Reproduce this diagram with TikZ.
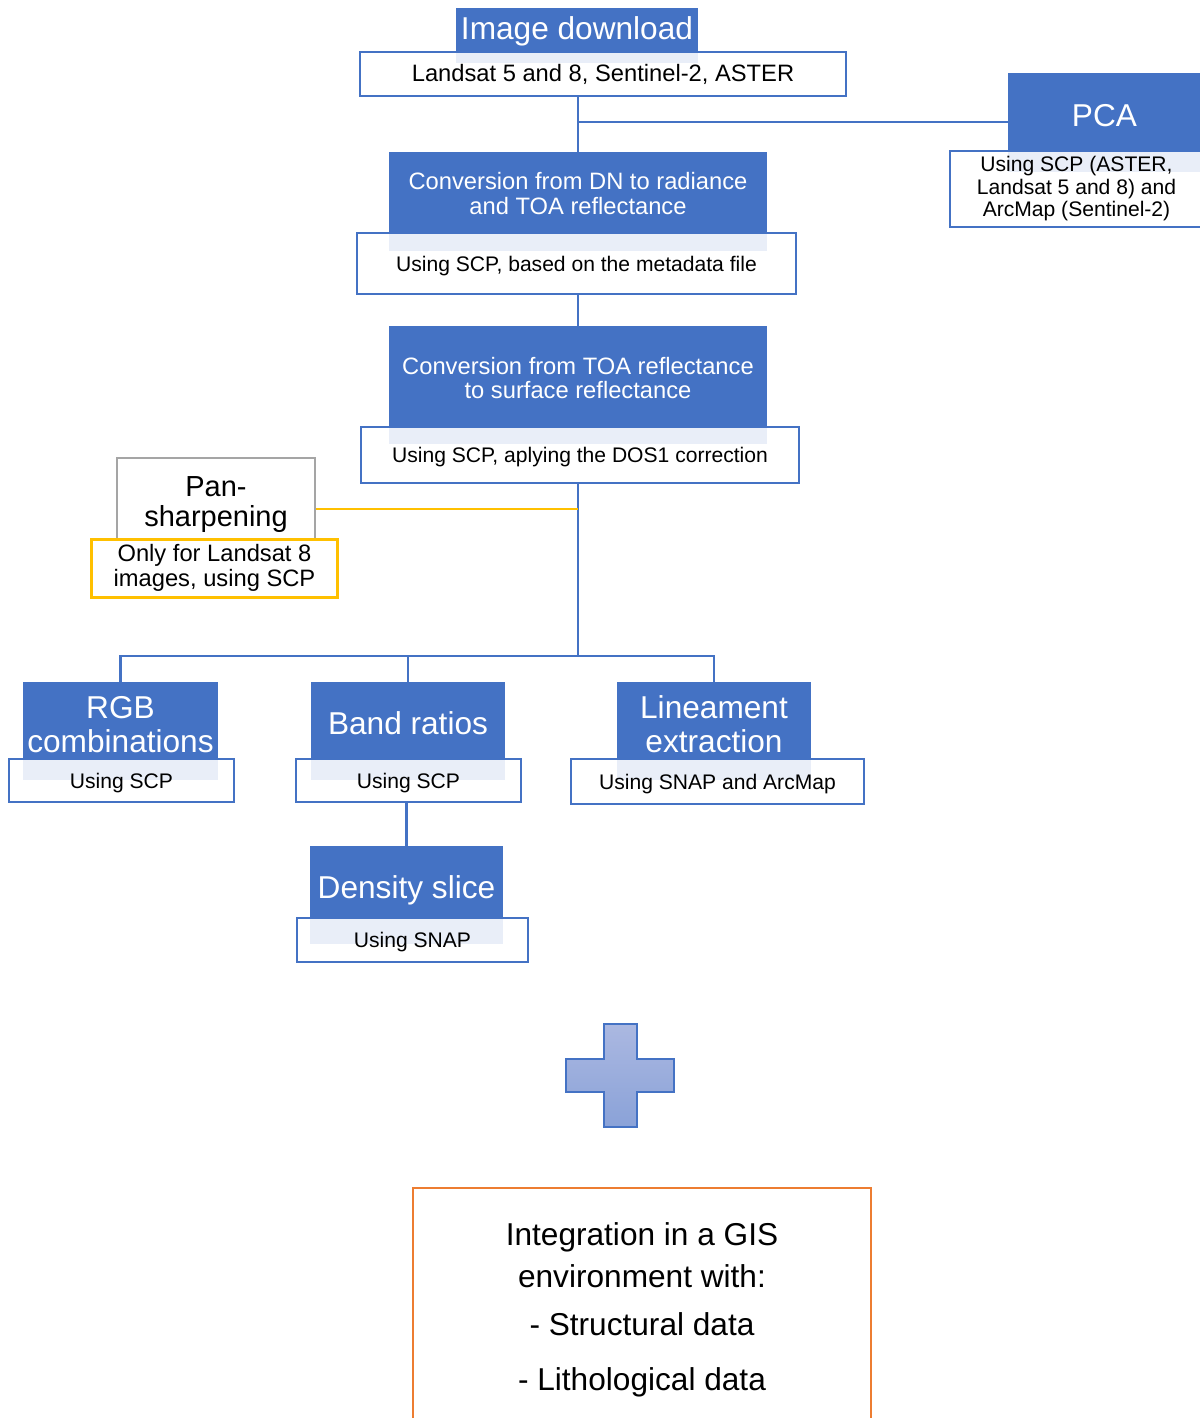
\documentclass[tikz,border=0pt]{standalone}
\usepackage{fontspec}
\setmainfont{Liberation Sans}
\definecolor{saBlue}{HTML}{4472C4}
\definecolor{saLight}{HTML}{E9EEF8}
\definecolor{saYellow}{HTML}{FFC000}
\definecolor{saGray}{HTML}{A5A5A5}
\definecolor{saOrange}{HTML}{ED7D31}
\definecolor{plusTop}{HTML}{ABB8E1}
\definecolor{plusBot}{HTML}{8AA2D8}
\tikzset{
  head/.style={fill=saBlue, text=white, inner sep=0pt, align=center, font=\fontsize{18}{19.5}\selectfont},
  convhead/.style={head, font=\fontsize{13.5}{14.2}\selectfont},
  sub/.style={draw=saBlue, line width=1.3pt, inner sep=0pt, align=center, font=\fontsize{12}{12.8}\selectfont},
  subline/.style={sub, text height=10.8pt, text depth=2.2pt},
  link/.style={draw=saBlue, line width=1.3pt},
}
\begin{document}
\begin{tikzpicture}[x=0.02cm, y=-0.02cm, line join=miter]
	\useasboundingbox (0,0) rectangle (1200,1418);
	\clip (0,0) rectangle (1200,1418);
	% blue heads
	\node (dl) at (577,31) [head, minimum width=4.84cm, minimum height=0.92cm] {Image download};
	\node (pca) at (1104.5,115.5) [head, minimum width=3.86cm, minimum height=1.7cm] {PCA};
	\node (conv1) at (578,193.5) [convhead, minimum width=7.56cm, minimum height=1.66cm] {Conversion from DN to radiance\\and TOA reflectance};
	\node (conv2) at (578,378) [convhead, minimum width=7.56cm, minimum height=2.08cm] {Conversion from TOA reflectance\\to surface reflectance};
	\node (rgb) at (120.5,724.5) [head, minimum width=3.9cm, minimum height=1.7cm] {RGB\\combinations};
	\node (band) at (408,723.5) [head, minimum width=3.88cm, minimum height=1.66cm] {Band ratios};
	\node (lin) at (714,724) [head, minimum width=3.88cm, minimum height=1.68cm] {Lineament\\extraction};
	\node (dens) at (406.5,890) [head, minimum width=3.86cm, minimum height=1.76cm] {Density slice};
	% light strips under the heads
	\fill[saLight] (456,52) rectangle (698,63);
	\fill[saLight] (1008,150) rectangle (1201,172);
	\fill[saLight] (389,233) rectangle (767,251);
	\fill[saLight] (389,427) rectangle (767,444);
	\fill[saLight] (23,759) rectangle (218,780);
	\fill[saLight] (311,759) rectangle (505,780);
	\fill[saLight] (617,759) rectangle (811,780);
	\fill[saLight] (310,918) rectangle (503,944);
	% white boxes
	\node (dlsub) at (603,74) [sub, minimum width=9.72cm, minimum height=0.88cm, font=\fontsize{13.5}{14.2}\selectfont] {Landsat 5 and 8, Sentinel-2, ASTER};
	\node (pcasub) at (1076.5,189) [sub, minimum width=5.06cm, minimum height=1.52cm] {Using SCP (ASTER,\\Landsat 5 and 8) and\\ArcMap (Sentinel-2)};
	\node (conv1sub) at (576.5,263.5) [subline, minimum width=8.78cm, minimum height=1.22cm] {Using SCP, based on the metadata file};
	\node (conv2sub) at (580,455) [subline, minimum width=8.76cm, minimum height=1.12cm] {Using SCP, aplying the DOS1 correction};
	\node (rgbsub) at (121.5,780.5) [subline, minimum width=4.5cm, minimum height=0.86cm] {Using SCP};
	\node (bandsub) at (408.5,780.5) [subline, minimum width=4.5cm, minimum height=0.86cm] {Using SCP};
	\node (linsub) at (717.5,781.5) [subline, minimum width=5.86cm, minimum height=0.9cm] {Using SNAP and ArcMap};
	\node (denssub) at (412.5,940) [subline, minimum width=4.62cm, minimum height=0.88cm] {Using SNAP};
	% pan-sharpening
	\node (pan) at (216,504.5) [draw=saGray, line width=1.3pt, inner sep=0pt, align=center, minimum width=3.96cm, minimum height=1.86cm, font=\fontsize{16.5}{17.6}\selectfont] {Pan-\\sharpening};
	\node (pansub) at (214.5,568) [draw=saYellow, fill=white, line width=1.7pt, inner sep=0pt, align=center, minimum width=4.94cm, minimum height=1.16cm, font=\fontsize{13.5}{14.2}\selectfont] {Only for Landsat 8\\images, using SCP};
	% connectors
	\coordinate (pcajoin) at (578,122);
	\coordinate (split) at (578,656);
	\draw[link] (conv1.north) -- (conv1.north |- dlsub.south);
	\draw[link] (pcajoin) -- (pcajoin -| pca.west);
	\draw[link] (conv2.north) -- (conv2.north |- conv1sub.south);
	\draw[link] (conv2.south |- conv2sub.south) -- (split);
	\draw[link] (rgb.north) |- (lin.north |- split) -- (lin.north);
	\draw[link] (band.north) -- (band.north |- split);
	\draw[link] (dens.north) -- (dens.north |- bandsub.south);
	\draw[saYellow, line width=0.6pt] ([yshift=-0.09cm]pan.east) -- ([yshift=-0.09cm]pan.east -| split);
	% plus
	\shade[draw=saBlue, line width=1.1pt, top color=plusTop, bottom color=plusBot] (604,1024) -- (637,1024) -- (637,1059) -- (674,1059) -- (674,1092) -- (637,1092) -- (637,1127) -- (604,1127) -- (604,1092) -- (566,1092) -- (566,1059) -- (604,1059) -- cycle;
	% integration
	\node (gis) at (642,1310) [draw=saOrange, line width=1.3pt, inner sep=0pt, align=center, minimum width=9.16cm, minimum height=4.88cm, font=\fontsize{18}{23.8}\selectfont] {Integration in a GIS\\environment with:\\[3.4pt]- Structural data\\[7.4pt]- Lithological data};
\end{tikzpicture}
\end{document}
